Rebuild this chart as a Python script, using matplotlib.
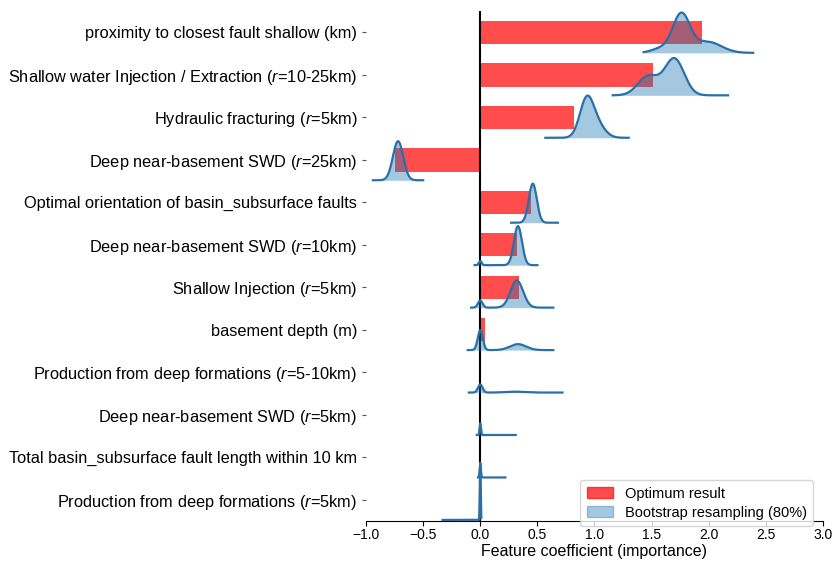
import numpy as np
from matplotlib import pyplot as plt
from matplotlib.patches import Patch

plt.rcParams['font.family'] = ['Liberation Sans', 'DejaVu Sans']
plt.rcParams['mathtext.fontset'] = 'custom'
plt.rcParams['mathtext.it'] = 'Liberation Sans:italic'
plt.rcParams['mathtext.rm'] = 'Liberation Sans'

features = [
    'proximity to closest fault shallow (km)',
    'Shallow water Injection / Extraction ($r$=10-25km)',
    'Hydraulic fracturing ($r$=5km)',
    'Deep near-basement SWD ($r$=25km)',
    'Optimal orientation of basin_subsurface faults',
    'Deep near-basement SWD ($r$=10km)',
    'Shallow Injection ($r$=5km)',
    'basement depth (m)',
    'Production from deep formations ($r$=5-10km)',
    'Deep near-basement SWD ($r$=5km)',
    'Total basin_subsurface fault length within 10 km',
    'Production from deep formations ($r$=5km)',
]

# optimum coefficients (red bars)
coef = [1.94, 1.51, 0.82, -0.75, 0.44, 0.32, 0.34, 0.04, 0.0, 0.0, 0.0, 0.0]

# bootstrap distributions: x-range and peaks (centre, spread, height in rows)
kde_range = [(1.43, 2.39), (1.16, 2.17), (0.57, 1.30), (-0.94, -0.50), (0.27, 0.68),
             (-0.05, 0.50), (-0.08, 0.64), (-0.11, 0.64), (-0.10, 0.72), (-0.03, 0.31),
             (-0.02, 0.22), (-0.33, 0.01)]
kde_peaks = [
    [(1.76, 0.075, 0.90), (1.99, 0.12, 0.26), (1.58, 0.08, 0.10)],
    [(1.70, 0.085, 0.86), (1.47, 0.09, 0.45)],
    [(0.93, 0.06, 0.85), (1.02, 0.07, 0.30)],
    [(-0.72, 0.045, 0.92)],
    [(0.46, 0.035, 0.92)],
    [(0.33, 0.035, 0.92), (0.0, 0.012, 0.10)],
    [(0.32, 0.055, 0.64), (0.0, 0.02, 0.17)],
    [(0.0, 0.022, 0.47), (0.33, 0.07, 0.14)],
    [(0.0, 0.02, 0.19), (0.30, 0.08, 0.02)],
    [(0.0, 0.006, 0.28)],
    [(0.0, 0.006, 0.28)],
    [(0.0, 0.004, 1.35)],
]

fig = plt.figure(figsize=(8.32, 5.63), dpi=100)
ax = fig.add_axes([0.44, 0.075, 0.549, 0.905])

y = np.arange(len(features))
ax.barh(y, coef, height=0.55, color='red', alpha=0.7, zorder=1)
ax.axvline(0, color='black', lw=1.5, zorder=2)

for i in range(len(features)):
    lo, hi = kde_range[i]
    xs = np.linspace(lo, hi, 3000)
    dens = np.zeros_like(xs)
    for m, s, h in kde_peaks[i]:
        dens += h * np.exp(-0.5 * ((xs - m) / s) ** 2)
    base = i + 0.48
    ax.fill_between(xs, base, base - dens, color='#1f77b4', alpha=0.4, lw=0, zorder=3)
    ax.plot(xs, base - dens, color='#2a6fa8', lw=1.6, zorder=4)

ax.set_yticks(y)
ax.set_yticklabels(features, fontsize=11.8)
ax.set_ylim(11.5, -0.5)
ax.set_xlim(-1, 3)
ax.set_xticks(np.arange(-1, 3.01, 0.5))
ax.tick_params(axis='x', labelsize=10, pad=2)
ax.tick_params(axis='y', length=3, color='#555555')
ax.set_xlabel('Feature coefficient (importance)', fontsize=11.5, labelpad=1)
for side in ['top', 'right', 'left']:
    ax.spines[side].set_visible(False)

handles = [Patch(color='red', alpha=0.7, label='Optimum result'),
           Patch(color='#1f77b4', alpha=0.4, label='Bootstrap resampling (80%)')]
ax.legend(handles=handles, loc='lower right', bbox_to_anchor=(0.995, -0.025), fontsize=10.5,
          handlelength=1.8, borderpad=0.45, labelspacing=0.35)

fig.savefig('out.png', dpi=100)
